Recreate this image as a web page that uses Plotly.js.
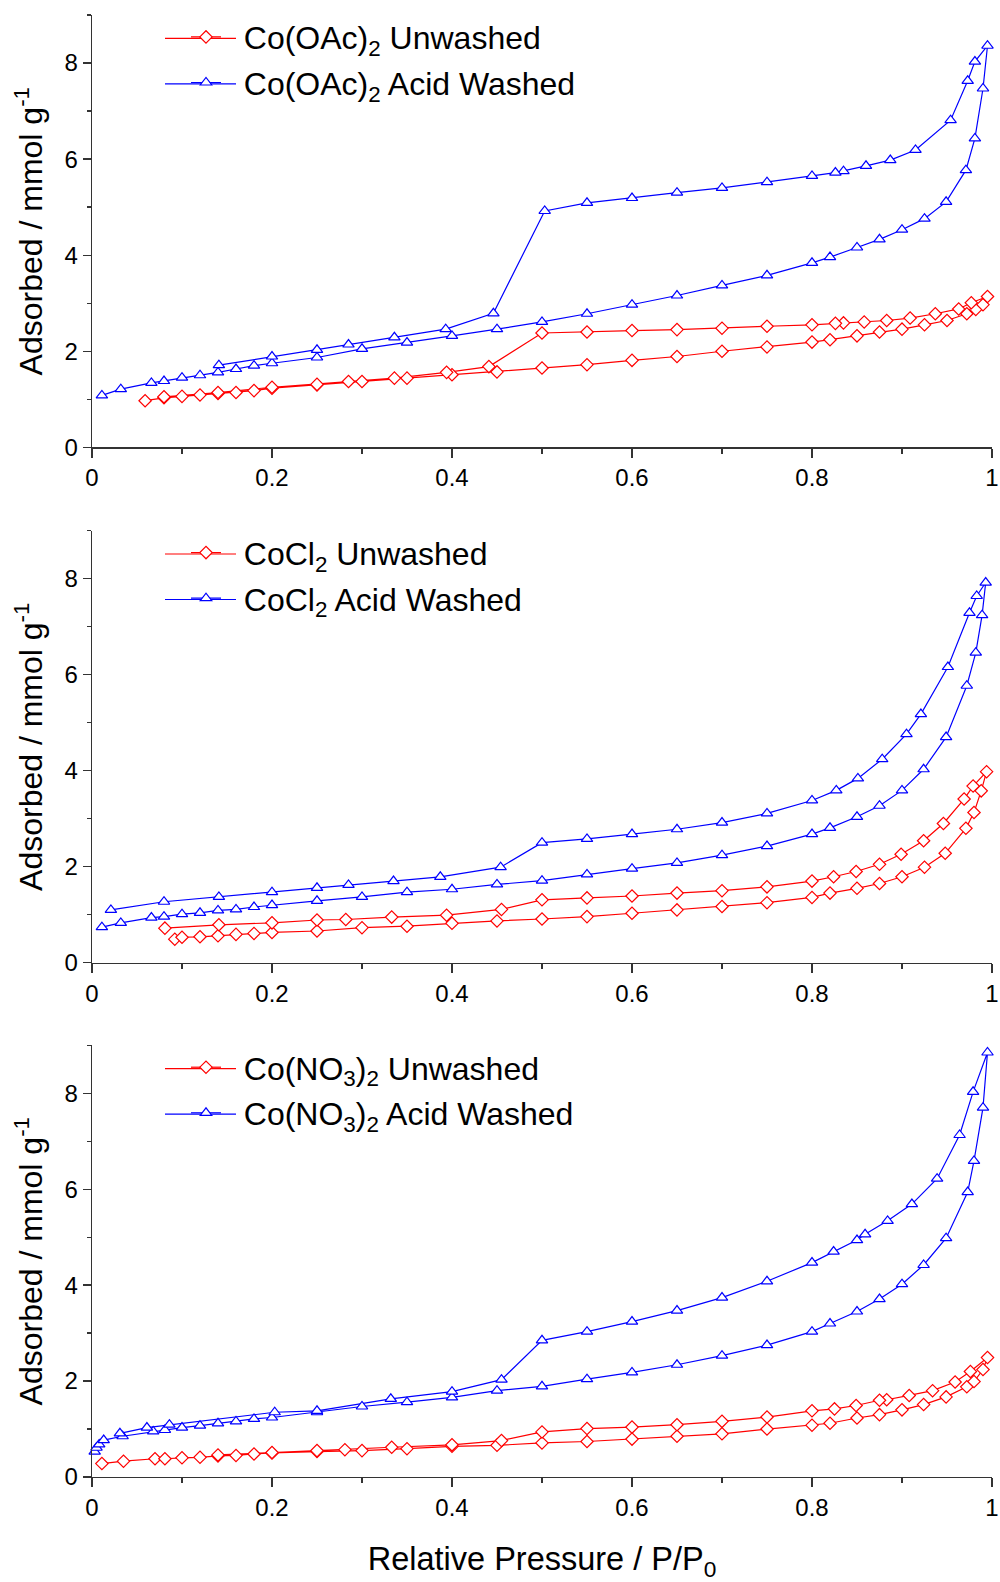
<!DOCTYPE html>
<html>
<head>
<meta charset="utf-8">
<script src="https://cdn.plot.ly/plotly-3.0.1.min.js"></script>
<style>html,body{margin:0;padding:0;background:#fff}#chart{width:1000px;height:1582px}</style>
</head>
<body>
<div id="chart"></div>
<script>
// ---------- DATA (adsorption branch followed by desorption branch) ----------
// Panel 1: Co(OAc)2
const oacUnwashedP = [0.059,0.08,0.10,0.12,0.14,0.16,0.18,0.20,0.25,0.30,0.35,0.40,0.45,0.50,0.55,0.60,0.65,0.70,0.75,0.80,0.82,0.85,0.875,0.90,0.925,0.95,0.972,0.982,0.99,0.995,
  0.977,0.963,0.937,0.909,0.883,0.858,0.835,0.826,0.80,0.75,0.70,0.65,0.60,0.55,0.50,0.441,0.394,0.336,0.285,0.25,0.20,0.14,0.08];
const oacUnwashedQ = [0.97,1.03,1.06,1.09,1.12,1.14,1.18,1.23,1.30,1.37,1.44,1.51,1.57,1.65,1.72,1.81,1.89,2.00,2.09,2.19,2.24,2.32,2.40,2.46,2.55,2.64,2.78,2.87,2.97,3.14,
  3.01,2.88,2.78,2.69,2.64,2.61,2.59,2.58,2.55,2.52,2.48,2.45,2.43,2.40,2.38,1.68,1.56,1.44,1.37,1.31,1.25,1.14,1.05];
const oacWashedP = [0.011,0.032,0.066,0.08,0.10,0.12,0.14,0.16,0.18,0.20,0.25,0.30,0.35,0.40,0.45,0.50,0.55,0.60,0.65,0.70,0.75,0.80,0.82,0.85,0.875,0.90,0.925,0.949,0.971,0.981,0.99,0.995,
  0.981,0.973,0.954,0.915,0.887,0.86,0.835,0.826,0.80,0.75,0.70,0.65,0.60,0.55,0.503,0.446,0.393,0.336,0.285,0.25,0.20,0.141];
const oacWashedQ = [1.08,1.21,1.34,1.38,1.45,1.50,1.56,1.63,1.70,1.75,1.87,2.05,2.18,2.32,2.46,2.61,2.78,2.97,3.16,3.37,3.58,3.84,3.96,4.16,4.33,4.53,4.76,5.11,5.77,6.43,7.47,8.36,
  8.03,7.63,6.81,6.19,5.98,5.86,5.75,5.72,5.65,5.52,5.40,5.30,5.19,5.09,4.92,2.79,2.46,2.29,2.14,2.03,1.89,1.71];

// Panel 2: CoCl2
const clUnwashedP = [0.092,0.10,0.12,0.14,0.16,0.18,0.20,0.25,0.30,0.35,0.40,0.45,0.50,0.55,0.60,0.65,0.70,0.75,0.80,0.82,0.85,0.875,0.90,0.925,0.948,0.971,0.98,0.988,0.994,
  0.979,0.969,0.946,0.924,0.899,0.875,0.849,0.824,0.80,0.75,0.70,0.65,0.60,0.55,0.50,0.455,0.394,0.333,0.282,0.25,0.20,0.141,0.081];
const clUnwashedQ = [0.49,0.53,0.54,0.56,0.59,0.61,0.63,0.66,0.73,0.76,0.82,0.87,0.91,0.96,1.03,1.10,1.17,1.25,1.36,1.45,1.55,1.65,1.79,1.99,2.28,2.80,3.13,3.58,3.98,
  3.68,3.41,2.90,2.54,2.26,2.05,1.90,1.79,1.70,1.58,1.50,1.45,1.39,1.35,1.31,1.11,0.99,0.95,0.90,0.89,0.83,0.79,0.72];
const clWashedP = [0.011,0.032,0.066,0.08,0.10,0.12,0.14,0.16,0.18,0.20,0.25,0.30,0.35,0.40,0.45,0.50,0.55,0.60,0.65,0.70,0.75,0.80,0.82,0.85,0.875,0.90,0.924,0.949,0.972,0.982,0.989,0.993,
  0.983,0.975,0.951,0.921,0.905,0.878,0.851,0.827,0.80,0.75,0.70,0.65,0.60,0.55,0.50,0.454,0.387,0.335,0.285,0.25,0.20,0.141,0.08,0.021];
const clWashedQ = [0.74,0.83,0.94,0.96,1.01,1.04,1.09,1.11,1.16,1.20,1.29,1.37,1.47,1.53,1.63,1.71,1.84,1.96,2.08,2.24,2.43,2.68,2.81,3.04,3.27,3.59,4.03,4.70,5.77,6.46,7.24,7.92,
  7.64,7.29,6.16,5.18,4.76,4.24,3.84,3.59,3.38,3.11,2.92,2.78,2.68,2.58,2.50,1.99,1.79,1.70,1.62,1.56,1.47,1.37,1.27,1.10];

// Panel 3: Co(NO3)2
const no3UnwashedP = [0.011,0.035,0.07,0.081,0.10,0.12,0.14,0.16,0.18,0.20,0.25,0.30,0.35,0.40,0.45,0.50,0.55,0.60,0.65,0.70,0.75,0.80,0.82,0.85,0.875,0.90,0.924,0.949,0.972,0.98,0.99,0.995,
  0.976,0.959,0.934,0.908,0.883,0.875,0.849,0.825,0.80,0.75,0.70,0.65,0.60,0.55,0.50,0.455,0.40,0.333,0.281,0.25,0.20,0.14];
const no3UnwashedQ = [0.28,0.33,0.38,0.38,0.40,0.41,0.44,0.45,0.48,0.50,0.53,0.55,0.59,0.64,0.66,0.71,0.74,0.79,0.85,0.90,1.00,1.08,1.12,1.23,1.30,1.40,1.51,1.67,1.88,1.99,2.24,2.49,
  2.20,1.98,1.80,1.70,1.61,1.60,1.49,1.42,1.38,1.25,1.16,1.09,1.04,1.01,0.94,0.76,0.67,0.62,0.57,0.55,0.51,0.46];
const no3WashedP = [0.003,0.005,0.008,0.013,0.034,0.068,0.081,0.10,0.12,0.14,0.16,0.18,0.20,0.25,0.30,0.35,0.40,0.45,0.50,0.55,0.60,0.65,0.70,0.75,0.80,0.82,0.85,0.875,0.90,0.924,0.949,0.973,0.98,0.99,0.995,
  0.979,0.964,0.939,0.911,0.884,0.859,0.85,0.824,0.80,0.75,0.70,0.65,0.60,0.55,0.50,0.455,0.40,0.332,0.25,0.203,0.086,0.061,0.031];
const no3WashedQ = [0.53,0.61,0.68,0.77,0.85,0.95,0.98,1.03,1.07,1.12,1.16,1.21,1.24,1.35,1.47,1.56,1.66,1.80,1.89,2.04,2.18,2.34,2.53,2.75,3.03,3.20,3.45,3.71,4.02,4.42,4.98,5.94,6.59,7.70,8.85,
  8.03,7.13,6.22,5.69,5.34,5.06,4.94,4.70,4.47,4.08,3.74,3.47,3.24,3.03,2.85,2.03,1.78,1.63,1.38,1.35,1.09,1.03,0.91];

// Legend labels and axis titles
const seriesNames = [
  ['Co(OAc)<sub>2</sub> Unwashed', 'Co(OAc)<sub>2</sub> Acid Washed'],
  ['CoCl<sub>2</sub> Unwashed', 'CoCl<sub>2</sub> Acid Washed'],
  ['Co(NO<sub>3</sub>)<sub>2</sub> Unwashed', 'Co(NO<sub>3</sub>)<sub>2</sub> Acid Washed']
];
const xTitle = 'Relative Pressure / P/P<sub>0</sub>';
const yTitle = 'Adsorbed / mmol g<sup>-1</sup>';

// ---------- STYLE ----------
const FONT = 'Liberation Sans';
const RED = '#ff0000', BLUE = '#0000ff';
const COLORS = [RED, BLUE];
const GAP = '\u00A0\u00A0'; // widens the gap between legend symbol and label
const panelData = [
  [[oacUnwashedP, oacUnwashedQ], [oacWashedP, oacWashedQ]],
  [[clUnwashedP, clUnwashedQ], [clWashedP, clWashedQ]],
  [[no3UnwashedP, no3UnwashedQ], [no3WashedP, no3WashedQ]]
];
const axisIds = [['x', 'y', 'legend'], ['x2', 'y2', 'legend2'], ['x3', 'y3', 'legend3']];

const traces = [];
panelData.forEach((pair, i) => {
  pair.forEach((s, j) => {
    const col = COLORS[j];
    traces.push({
      type: 'scatter', mode: 'lines+markers',
      x: s[0], y: s[1],
      xaxis: axisIds[i][0], yaxis: axisIds[i][1], legend: axisIds[i][2],
      name: GAP + seriesNames[i][j], legendgroup: 'g' + i + j,
      line: { color: col, width: 1.2 },
      marker: { symbol: j === 0 ? 'diamond' : 'triangle-up', size: j === 0 ? 9.5 : 10,
                color: '#ffffff', line: { color: col, width: 1.2 } },
      cliponaxis: false
    });
  });
});

const W = 1000, H = 1582, L = 92, R = 8, T = 15, B = 105;
const plotW = W - L - R, plotH = H - T - B;
const px2x = p => (p - L) / plotW;
const py2y = p => (H - B - p) / plotH;
function dom(topPx, botPx) { return [py2y(botPx), py2y(topPx)]; }
const panels = [[15, 447.3], [530.7, 962.7], [1045.3, 1477]];

function xAxis(i) {
  const a = {
    domain: [0, 1], range: [0, 1], anchor: axisIds[i][1],
    dtick: 0.2, tick0: 0, ticks: 'outside', ticklen: 9, tickwidth: 1.3, tickcolor: '#333',
    minor: { dtick: 0.1, ticks: 'outside', ticklen: 5, tickwidth: 1.3, tickcolor: '#333', showgrid: false },
    showline: true, linecolor: '#333', linewidth: 1.3, showgrid: false, zeroline: false,
    tickfont: { family: FONT, size: 24, color: '#000' }, fixedrange: true
  };
  if (i === 2) a.title = { text: xTitle, font: { family: FONT, size: 32.5, color: '#000' }, standoff: 29 };
  return a;
}
function yAxis(i) {
  return {
    domain: dom(panels[i][0], panels[i][1]), range: [0, 9], anchor: axisIds[i][0],
    dtick: 2, tick0: 0, ticks: 'outside', ticklen: 8, tickwidth: 1.3, tickcolor: '#333',
    minor: { dtick: 1, ticks: 'outside', ticklen: 4, tickwidth: 1.3, tickcolor: '#333', showgrid: false },
    showline: true, linecolor: '#333', linewidth: 1.3, showgrid: false, zeroline: false,
    tickfont: { family: FONT, size: 24, color: '#000' },
    title: { text: yTitle, font: { family: FONT, size: 32, color: '#000' }, standoff: 12 },
    automargin: false, fixedrange: true
  };
}
// legend: marker centred near x=200 px, label starting near x=245 px
function legend(i) {
  const topPx = panels[i][0] - 5.4;
  return {
    x: px2x(186), xanchor: 'left',
    y: py2y(topPx), yanchor: 'top',
    bgcolor: 'rgba(0,0,0,0)', borderwidth: 0,
    font: { family: FONT, size: 32, color: '#000' },
    tracegroupgap: 1, itemwidth: 30
  };
}
// longer legend sample lines (Origin style), drawn beneath the legend symbols
const shapes = [];
panels.forEach((p) => {
  [23.3, 68.8].forEach((off, j) => {
    shapes.push({
      type: 'line', xref: 'paper', yref: 'paper', layer: 'above',
      x0: px2x(165), x1: px2x(236), y0: py2y(p[0] + off), y1: py2y(p[0] + off),
      line: { color: COLORS[j], width: 1.2 }
    });
  });
});

const layout = {
  width: W, height: H,
  margin: { l: L, r: R, t: T, b: B },
  paper_bgcolor: '#fff', plot_bgcolor: '#fff',
  font: { family: FONT, color: '#000' },
  showlegend: true,
  xaxis: xAxis(0), yaxis: yAxis(0),
  xaxis2: xAxis(1), yaxis2: yAxis(1),
  xaxis3: xAxis(2), yaxis3: yAxis(2),
  legend: legend(0), legend2: legend(1), legend3: legend(2),
  shapes: shapes
};

Plotly.newPlot('chart', traces, layout, { displayModeBar: false, staticPlot: true });
</script>
</body>
</html>
